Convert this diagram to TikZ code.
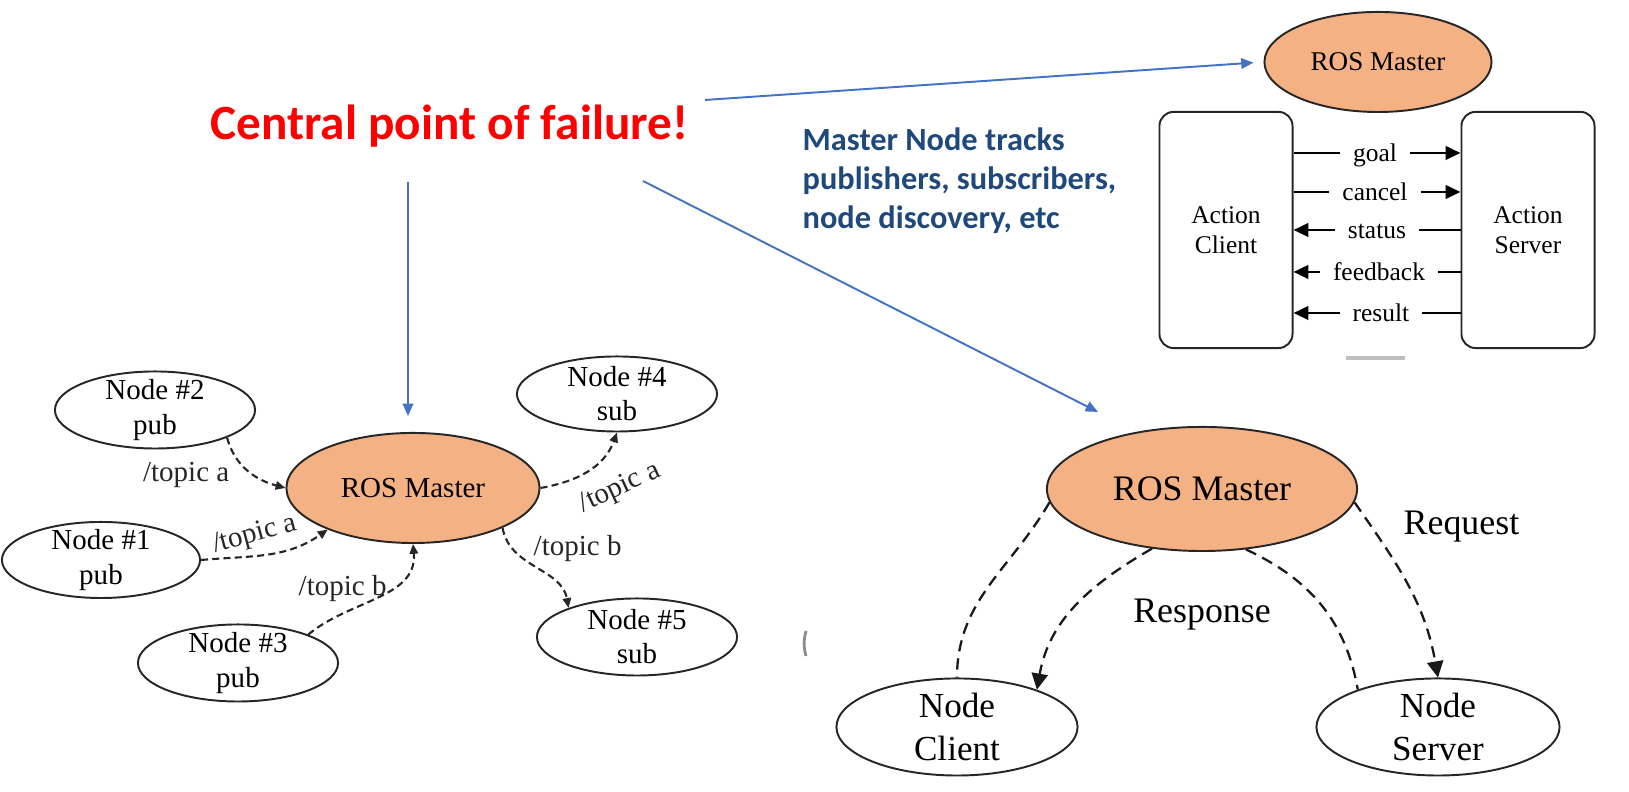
\documentclass[tikz,border=0pt]{standalone}
\usepackage{fontspec}
\setmainfont{Liberation Serif}
\newfontfamily\calibrifont{Carlito}
\usetikzlibrary{shapes.geometric,arrows.meta}

\definecolor{rosorange}{HTML}{F4B183}
\definecolor{failred}{HTML}{FF0000}
\definecolor{notenavy}{HTML}{1F497D}
\definecolor{pointblue}{HTML}{4472C4}
\definecolor{bargray}{HTML}{BFBFBF}

\begin{document}
\begin{tikzpicture}[x=0.01cm, y=0.01cm,
        master/.style={ellipse, draw=black!85, line width=0.55pt, fill=rosorange, inner sep=0pt},
        rosnode/.style={ellipse, draw=black!85, line width=0.55pt, fill=white, inner sep=-3pt, align=center},
        topic/.style={draw=black!85, line width=0.6pt, dash pattern=on 2pt off 1.2pt, -{Triangle[length=2.8pt,width=2.4pt]}},
        topiclabel/.style={inner sep=0pt, font=\fontsize{8.25}{10}\selectfont, text=black!85},
        service/.style={draw=black!90, line width=0.65pt, dash pattern=on 3.2pt off 2pt},
        action/.style={draw=black, line width=0.75pt},
        actlabel/.style={inner xsep=3.5pt, inner ysep=0pt, text height=1ex, text depth=0pt, font=\fontsize{7.25}{8}\selectfont},
        pointer/.style={draw=pointblue, line width=0.55pt, -{Triangle[length=3.5pt,width=3pt]}}]

    \useasboundingbox (0,0) rectangle (1629,792);

    % Headline and note
    \node[anchor=base west, inner sep=0pt, text=failred,
          font=\calibrifont\bfseries\fontsize{14}{17}\selectfont] (failure) at (210,652) {Central point of failure!};
    \node[anchor=west, inner sep=0pt, align=left, text=notenavy,
          font=\calibrifont\bfseries\fontsize{9.2}{11.1}\selectfont] (tracks) at (802,611)
          {Master Node tracks\\publishers, subscribers,\\node discovery, etc};

    % Publish / subscribe graph
    \begin{scope}
        \node[master, minimum width=2.53cm, minimum height=1.10cm, font=\fontsize{8.25}{10}\selectfont] (lmaster) at (413,304) {ROS Master};
        \node[rosnode, minimum width=2.00cm, minimum height=0.77cm, font=\fontsize{8.25}{9.7}\selectfont] (n2) at (155,382) {Node \#2\\pub};
        \node[rosnode, minimum width=1.98cm, minimum height=0.76cm, font=\fontsize{8.25}{9.7}\selectfont] (n1) at (101,232) {Node \#1\\pub};
        \node[rosnode, minimum width=2.00cm, minimum height=0.77cm, font=\fontsize{8.25}{9.7}\selectfont] (n3) at (238,129) {Node \#3\\pub};
        \node[rosnode, minimum width=2.00cm, minimum height=0.75cm, font=\fontsize{8.25}{9.7}\selectfont] (n4) at (617,398) {Node \#4\\sub};
        \node[rosnode, minimum width=2.00cm, minimum height=0.77cm, font=\fontsize{8.25}{9.7}\selectfont] (n5) at (637,155) {Node \#5\\sub};

        % topics
        \draw[topic] (n2.-21) to[out=-75,in=165] (lmaster.west);
        \draw[topic] (n1.east) to[out=5,in=215] (lmaster.206);
        \draw[topic] (n3.22) to[out=40,in=-85] (lmaster.south);
        \draw[topic] (lmaster.east) to[out=10,in=-110] (n4.south);
        \draw[topic] (lmaster.-24) to[out=-80,in=100] (n5.157);

        \node[topiclabel, anchor=base east] (topic2) at (230,310) {/topic a};
        \node[topiclabel, rotate=15] (topic1) at (255,257) {/topic a};
        \node[topiclabel, anchor=base west] (topic3) at (298,196) {/topic b};
        \node[topiclabel, rotate=25] (topic4) at (620,304) {/topic a};
        \node[topiclabel, anchor=base west] (topic5) at (533,236) {/topic b};
    \end{scope}

    % Action client / server
    \begin{scope}[>={Triangle[length=4.2pt,width=3.8pt]}]
        \node[master, minimum width=2.27cm, minimum height=1.00cm, font=\fontsize{7.7}{9}\selectfont] (tmaster) at (1378,730) {ROS Master};
        \node[draw=black!85, line width=0.55pt, rounded corners=4pt, minimum width=1.33cm, minimum height=2.36cm,
              align=center, font=\fontsize{7.25}{8.6}\selectfont] (aclient) at (1226,562) {Action\\Client};
        \node[draw=black!85, line width=0.55pt, rounded corners=4pt, minimum width=1.33cm, minimum height=2.36cm,
              align=center, font=\fontsize{7.25}{8.6}\selectfont] (aserver) at (1528,562) {Action\\Server};

        \node[actlabel] (goal) at (1375,639) {goal};
        \node[actlabel] (cancel) at (1375,600) {cancel};
        \node[actlabel] (status) at (1377,562) {status};
        \node[actlabel] (feedback) at (1379,520) {feedback};
        \node[actlabel] (result) at (1381,479) {result};

        \draw[action] (aclient.east |- goal) -- (goal.west);
        \draw[action,->] (goal.east) -- (aserver.west |- goal);
        \draw[action] (aclient.east |- cancel) -- (cancel.west);
        \draw[action,->] (cancel.east) -- (aserver.west |- cancel);
        \draw[action,<-] (aclient.east |- status) -- (status.west);
        \draw[action] (status.east) -- (aserver.west |- status);
        \draw[action,<-] (aclient.east |- feedback) -- (feedback.west);
        \draw[action] (feedback.east) -- (aserver.west |- feedback);
        \draw[action,<-] (aclient.east |- result) -- (result.west);
        \draw[action] (result.east) -- (aserver.west |- result);

        % scroll bar left over below the boxes
        \draw[bargray, line width=1.4pt] (1346,434) -- (1405,434);
    \end{scope}

    % Service request / response
    \begin{scope}[>={Triangle[length=4.6pt,width=4.6pt]}]
        \node[master, minimum width=3.10cm, minimum height=1.24cm, font=\fontsize{10.2}{12}\selectfont] (bmaster) at (1202,303) {ROS Master};
        \node[rosnode, minimum width=2.41cm, minimum height=0.97cm, font=\fontsize{10}{12}\selectfont] (nclient) at (957,65) {Node\\Client};
        \node[rosnode, minimum width=2.43cm, minimum height=0.97cm, font=\fontsize{10}{12}\selectfont] (nserver) at (1438,65) {Node\\Server};

        \draw[service] (bmaster.185) to[out=-120,in=90] (nclient.north);
        \draw[service,->] (bmaster.230) to[out=-150,in=80] (nclient.25);
        \draw[service] (bmaster.-54) to[out=-25,in=100] (nserver.155);
        \draw[service,->] (bmaster.-5) to[out=-55,in=100] (nserver.north);

        \node[anchor=base, inner sep=0pt, font=\fontsize{10.2}{12}\selectfont] (response) at (1202,169) {Response};
        \node[anchor=base west, inner sep=0pt, font=\fontsize{10.2}{12}\selectfont] (request) at (1403,257) {Request};

        % small mark at the edge of the cropped figure
        \draw[black!45, line width=0.8pt] (806,161) to[bend right=15] (806,136);
    \end{scope}

    % Pointers from the headline
    \coordinate (failright) at (705,692);
    \coordinate (failbelow) at (408,610);
    \coordinate (failslant) at (643,611);
    \coordinate (slanttip) at (1098,380);
    \draw[pointer, shorten >=0.1cm] (failright) -- (tmaster.west);
    \draw[pointer, shorten >=0.16cm] (failbelow) -- (failbelow |- lmaster.north);
    \draw[pointer] (failslant) -- (slanttip);

\end{tikzpicture}
\end{document}
